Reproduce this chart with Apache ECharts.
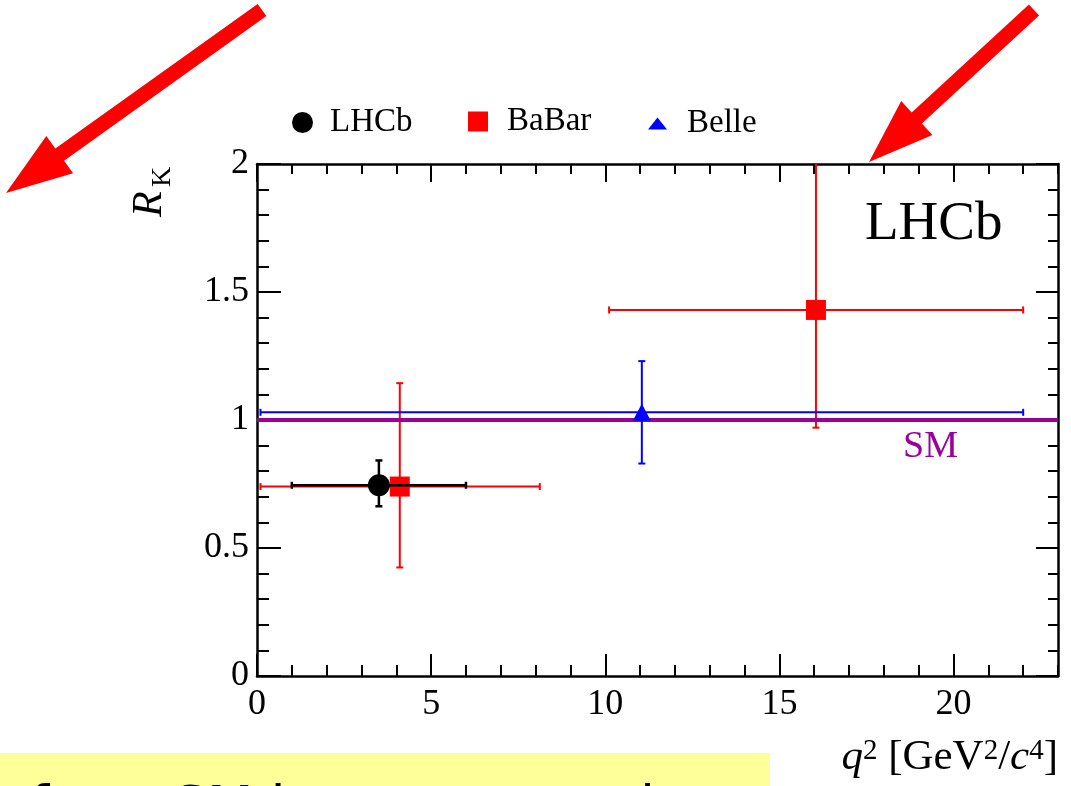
<!DOCTYPE html>
<html>
<head>
<meta charset="utf-8">
<script src="https://cdn.jsdelivr.net/npm/echarts@6/dist/echarts.min.js"></script>
<style>
  html, body { margin: 0; padding: 0; background: #ffffff; }
  #chart { width: 1071px; height: 786px; }
</style>
</head>
<body>
<div id="chart"></div>
<script>
// R_K measurements: central value, q2 bin edges and total uncertainty interval
const lhcbPoints   = [[3.5, 0.745]];
const lhcbQ2Bins   = [[1.0, 6.0]];
const lhcbRkRange  = [[0.663, 0.842]];

const babarPoints  = [[4.1, 0.74], [16.05, 1.43]];
const babarQ2Bins  = [[0.1, 8.12], [10.11, 22.0]];
const babarRkRange = [[0.424, 1.144], [0.97, 2.09]];

const bellePoints  = [[11.05, 1.03]];
const belleQ2Bins  = [[0.1, 22.0]];
const belleRkRange = [[0.83, 1.23]];

// Standard Model expectation
const smValue = 1.0;

// Axis ranges and tick positions
const q2Range = [0, 23];
const rkRange = [0, 2];
const xMajorTicks = [0, 5, 10, 15, 20];
const xMinorTicks = [0, 1, 2, 3, 4, 5, 6, 7, 8, 9, 10, 11, 12, 13, 14, 15, 16, 17, 18, 19, 20, 21, 22, 23];
const yMajorTicks = [0, 0.5, 1, 1.5, 2];
const yMinorTicks = [0, 0.1, 0.2, 0.3, 0.4, 0.5, 0.6, 0.7, 0.8, 0.9, 1.0,
                     1.1, 1.2, 1.3, 1.4, 1.5, 1.6, 1.7, 1.8, 1.9, 2.0];

const SERIF = 'Liberation Serif';
const RED = '#ff0000', BLUE = '#0000ff', BLACK = '#000000', PURPLE = '#990099';

function withErrors(points, bins, ranges) {
  return points.map((p, i) => [p[0], p[1], bins[i][0], bins[i][1], ranges[i][0], ranges[i][1]]);
}

// Cross-shaped error bars with small end caps
function errorBars(color, width) {
  return function (params, api) {
    const x = api.value(0), y = api.value(1);
    const l = api.coord([api.value(2), y]);
    const r = api.coord([api.value(3), y]);
    const lo = api.coord([x, api.value(4)]);
    const hi = api.coord([x, api.value(5)]);
    const cap = 3.5;
    const style = { stroke: color, lineWidth: width };
    const seg = (x1, y1, x2, y2) => ({ type: 'line', shape: { x1, y1, x2, y2 }, style });
    return {
      type: 'group',
      children: [
        seg(l[0], l[1], r[0], r[1]),
        seg(lo[0], lo[1], hi[0], hi[1]),
        seg(l[0], l[1] - cap, l[0], l[1] + cap),
        seg(r[0], r[1] - cap, r[0], r[1] + cap),
        seg(hi[0] - cap, hi[1], hi[0] + cap, hi[1]),
        seg(lo[0] - cap, lo[1], lo[0] + cap, lo[1])
      ]
    };
  };
}

function xAxisDef(position, ticks, len, withLine, withLabels) {
  return {
    type: 'value', position, min: q2Range[0], max: q2Range[1],
    axisLine: { show: withLine, onZero: false, lineStyle: { color: BLACK, width: 2.5 } },
    axisTick: { show: true, inside: true, length: len, customValues: ticks,
                lineStyle: { color: BLACK, width: 2 } },
    axisLabel: withLabels
      ? { show: true, customValues: ticks, color: BLACK, fontFamily: SERIF, fontSize: 36, margin: 11 }
      : { show: false },
    splitLine: { show: false }
  };
}

function yAxisDef(position, ticks, len, withLine, withLabels) {
  return {
    type: 'value', position, min: rkRange[0], max: rkRange[1],
    axisLine: { show: withLine, onZero: false, lineStyle: { color: BLACK, width: 2.5 } },
    axisTick: { show: true, inside: true, length: len, customValues: ticks,
                lineStyle: { color: BLACK, width: 2 } },
    axisLabel: withLabels
      ? { show: true, customValues: ticks, color: BLACK, fontFamily: SERIF, fontSize: 36, margin: 8 }
      : { show: false },
    splitLine: { show: false }
  };
}

// Filled arrow polygon from tail to tip
function arrowPoints(tail, tip, shaftHalf, headHalf, headLen) {
  const dx = tip[0] - tail[0], dy = tip[1] - tail[1];
  const L = Math.hypot(dx, dy), ux = dx / L, uy = dy / L, nx = -uy, ny = ux;
  const at = (d, o) => [tip[0] - ux * d + nx * o, tip[1] - uy * d + ny * o];
  return [
    [tail[0] + nx * shaftHalf, tail[1] + ny * shaftHalf],
    at(headLen, shaftHalf), at(headLen, headHalf), tip,
    at(headLen, -headHalf), at(headLen, -shaftHalf),
    [tail[0] - nx * shaftHalf, tail[1] - ny * shaftHalf]
  ];
}

const chart = echarts.init(document.getElementById('chart'), null, { renderer: 'canvas' });

const legendText = (gap) => ({ fontFamily: SERIF, fontSize: 33, color: BLACK, padding: [0, 0, 12, gap] });

chart.setOption({
  backgroundColor: '#ffffff',
  animation: false,
  grid: { left: 257, right: 13, top: 164, bottom: 110, containLabel: false },
  xAxis: [
    xAxisDef('bottom', xMajorTicks, 22, true, true),
    xAxisDef('bottom', xMinorTicks, 11, false, false),
    xAxisDef('top', xMajorTicks, 18, true, false),
    xAxisDef('top', xMinorTicks, 10, false, false)
  ],
  yAxis: [
    yAxisDef('left', yMajorTicks, 24, true, true),
    yAxisDef('left', yMinorTicks, 12, false, false),
    yAxisDef('right', yMajorTicks, 22, true, false),
    yAxisDef('right', yMinorTicks, 10, false, false)
  ],
  legend: [
    { data: [{ name: 'LHCb', icon: 'circle' }], left: 287, top: 101, itemWidth: 21, itemHeight: 21,
      selectedMode: false, itemStyle: { opacity: 1 }, textStyle: legendText(12) },
    { data: [{ name: 'BaBar', icon: 'rect' }], left: 463, top: 100, itemWidth: 20, itemHeight: 20,
      selectedMode: false, itemStyle: { opacity: 1 }, textStyle: legendText(14) },
    { data: [{ name: 'Belle', icon: 'triangle' }], left: 643, top: 102, itemWidth: 19, itemHeight: 12,
      selectedMode: false, itemStyle: { opacity: 1 }, textStyle: legendText(15) }
  ],
  series: [
    {
      type: 'custom', name: 'BaBar errors', clip: true, z: 2,
      renderItem: errorBars(RED, 2), data: withErrors(babarPoints, babarQ2Bins, babarRkRange)
    },
    {
      type: 'scatter', name: 'BaBar', symbol: 'rect', symbolSize: 20, z: 3,
      itemStyle: { color: RED, opacity: 1 }, data: babarPoints
    },
    {
      type: 'line', name: 'SM', z: 4, symbol: 'none', silent: true,
      lineStyle: { color: PURPLE, width: 4 },
      data: [[q2Range[0], smValue], [q2Range[1], smValue]]
    },
    {
      type: 'custom', name: 'Belle errors', clip: true, z: 5,
      renderItem: errorBars(BLUE, 2), data: withErrors(bellePoints, belleQ2Bins, belleRkRange)
    },
    {
      type: 'scatter', name: 'Belle', symbol: 'triangle', symbolSize: [18, 17], z: 6,
      itemStyle: { color: BLUE, opacity: 1 }, data: bellePoints
    },
    {
      type: 'scatter', name: 'LHCb', symbol: 'circle', symbolSize: 22, z: 7,
      itemStyle: { color: BLACK, opacity: 1 }, data: lhcbPoints
    },
    {
      type: 'custom', name: 'LHCb errors', clip: true, z: 8,
      renderItem: errorBars(BLACK, 2.5), data: withErrors(lhcbPoints, lhcbQ2Bins, lhcbRkRange)
    }
  ],
  graphic: [
    // experiment tag inside the frame
    { type: 'text', left: 865, top: 197, z: 20,
      style: { text: 'LHCb', fontFamily: SERIF, fontSize: 55, fill: BLACK } },
    // SM label under the reference line
    { type: 'text', left: 903, top: 428, z: 20,
      style: { text: 'SM', fontFamily: SERIF, fontSize: 38, fill: PURPLE } },
    // y-axis title R_K (rotated)
    { type: 'text', x: 171, y: 217, rotation: Math.PI / 2, z: 20,
      style: { text: 'R', fontFamily: SERIF, fontStyle: 'italic', fontSize: 42, fill: BLACK,
               align: 'left', verticalAlign: 'bottom' } },
    { type: 'text', x: 177, y: 187, rotation: Math.PI / 2, z: 20,
      style: { text: 'K', fontFamily: SERIF, fontSize: 28, fill: BLACK,
               align: 'left', verticalAlign: 'bottom' } },
    // x-axis title
    { type: 'text', x: 1058, y: 758, z: 20,
      style: {
        text: '{i|q}{s|2} [GeV{s|2}/{i|c}{s|4}]',
        align: 'right', verticalAlign: 'middle',
        fontFamily: SERIF, fontSize: 43, fill: BLACK,
        rich: {
          i: { fontFamily: SERIF, fontStyle: 'italic', fontSize: 43, fill: BLACK },
          s: { fontFamily: SERIF, fontSize: 29, fill: BLACK, verticalAlign: 'top', lineHeight: 40 }
        }
      } },
    // caption strip along the bottom edge
    { type: 'rect', shape: { x: 0, y: 753, width: 770, height: 40 }, z: 10,
      style: { fill: '#ffff99' } },
    { type: 'text', x: 30, y: 810, z: 11,
      style: { text: 'from SM but no sensation', fontFamily: 'DejaVu Sans', fontSize: 54,
               fill: BLACK, verticalAlign: 'middle' } },
    // pointer arrows
    { type: 'polygon', z: 30, shape: { points: arrowPoints([262, 10], [6, 193], 7.5, 23, 66) },
      style: { fill: RED } },
    { type: 'polygon', z: 30, shape: { points: arrowPoints([1034, 10], [869, 162], 7.5, 23, 65) },
      style: { fill: RED } }
  ]
});
</script>
</body>
</html>
